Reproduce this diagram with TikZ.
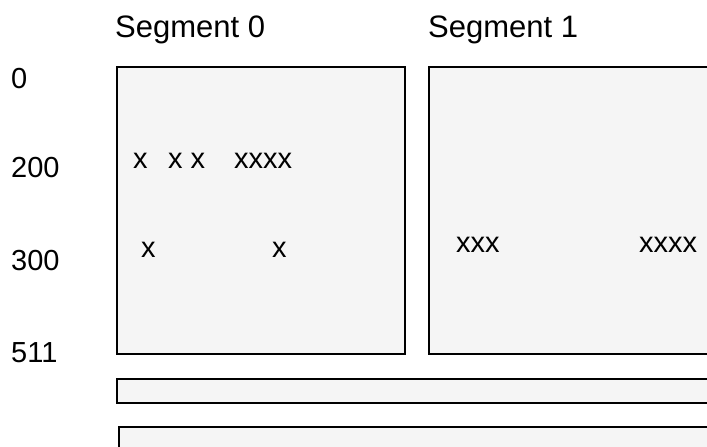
\documentclass[tikz,border=0pt]{standalone}
\usepackage{fontspec}
\setmainfont{Liberation Sans}
\definecolor{boxfill}{HTML}{F5F5F5}
\begin{document}
\begin{tikzpicture}[x=1pt,y=-1pt,
  seg/.style={draw=black,fill=boxfill,line width=2.2pt},
  lbl/.style={inner sep=0pt,anchor=base west,font=\fontsize{29}{34}\selectfont},
  hdr/.style={lbl,font=\fontsize{31}{36}\selectfont}]
\useasboundingbox (0,0) rectangle (707,447);
\clip (0,0) rectangle (707,447);
% boxes
\draw[seg] (117,67) rectangle (405,354);
\draw[seg] (429,67) rectangle (720,354);
\draw[seg] (117,379) rectangle (720,403);
\draw[seg] (119,427) rectangle (720,460);
% headers
\node[hdr] (s0) at (115,37) {Segment 0};
\node[hdr] (s1) at (428,37) {Segment 1};
% row labels
\node[lbl] (l0) at (11,88) {0};
\node[lbl] (l200) at (11,177) {200};
\node[lbl] (l300) at (11,270) {300};
\node[lbl] (l511) at (11,362) {511};
% segment 0 contents
\node[lbl] (a1) at (133,168) {x};
\node[lbl] (a2) at (168,168) {x x};
\node[lbl] (a3) at (234,168) {xxxx};
\node[lbl] (b1) at (141,257) {x};
\node[lbl] (b2) at (272,257) {x};
% segment 1 contents
\node[lbl] (c1) at (456,252) {xxx};
\node[lbl] (c2) at (639,252) {xxxx};
\end{tikzpicture}
\end{document}
